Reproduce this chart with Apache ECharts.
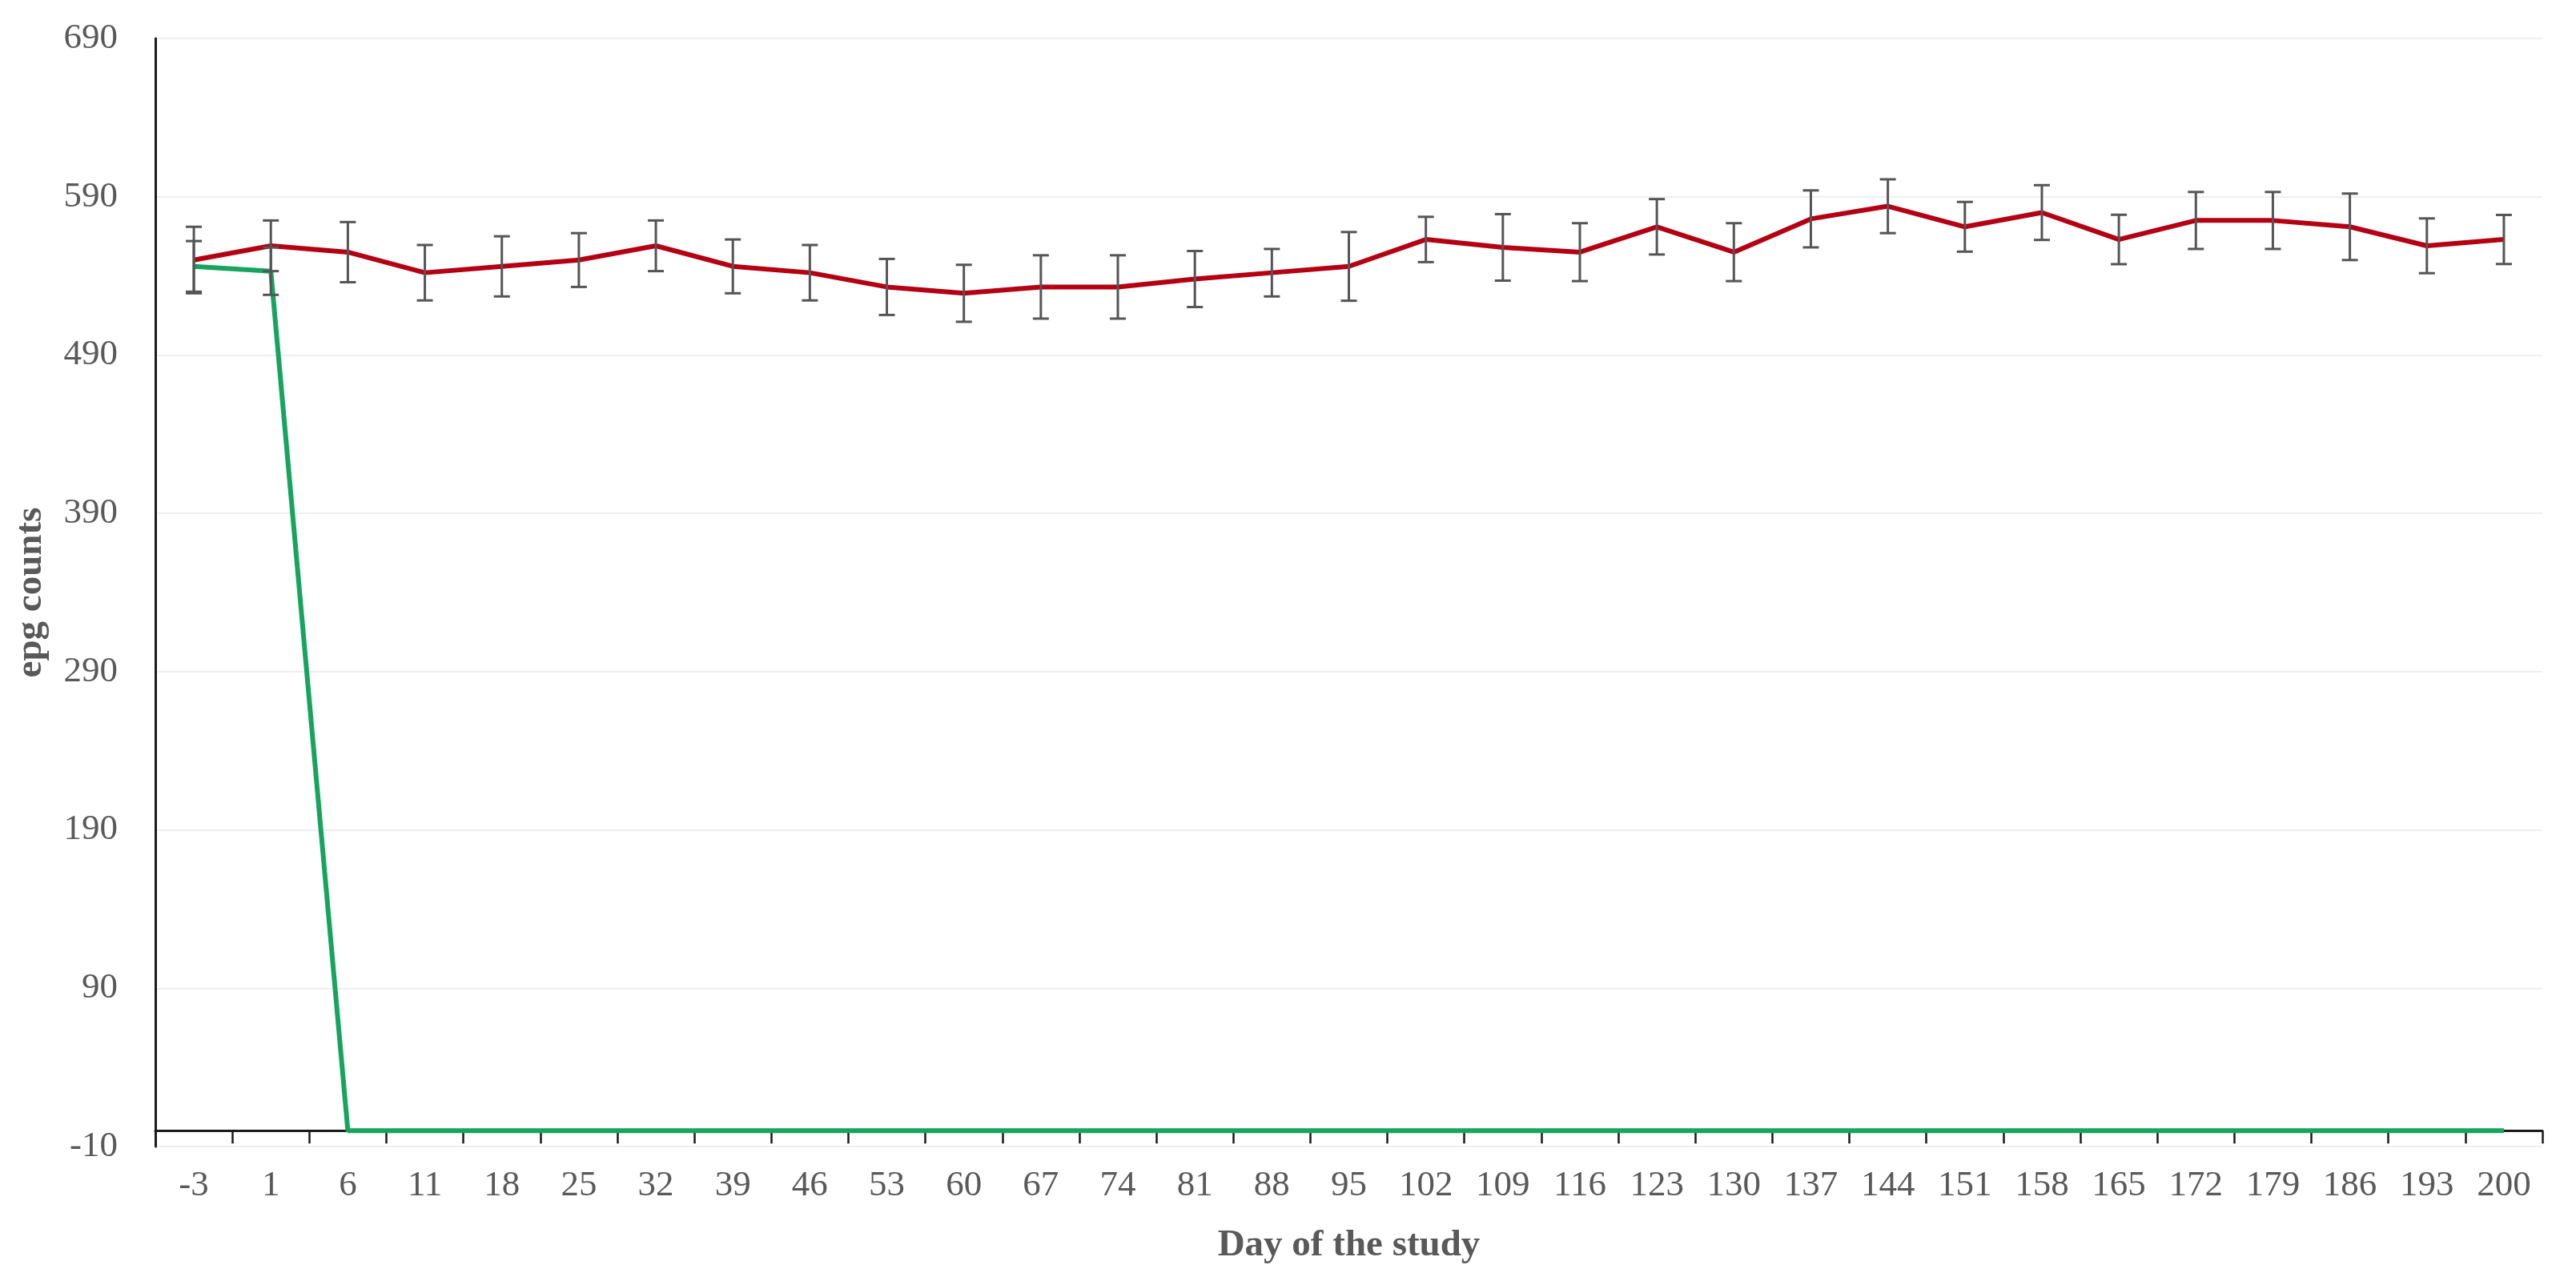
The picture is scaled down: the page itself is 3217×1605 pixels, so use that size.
<!DOCTYPE html>
<html>
<head>
<meta charset="utf-8">
<script src="https://cdn.jsdelivr.net/npm/echarts@6/dist/echarts.min.js"></script>
<style>
html,body{margin:0;padding:0;background:#fff;}
#chart{width:3217px;height:1605px;}
</style>
</head>
<body>
<div id="chart"></div>
<script>
// Categories: day of the study
const days = ['-3','1','6','11','18','25','32','39','46','53','60','67','74','81','88','95','102','109','116','123','130','137','144','151','158','165','172','179','186','193','200'];
// Red series (mean epg) and its error (half-range of error bar)
const redMean = [550,559,555,542,546,550,559,546,542,533,529,533,533,538,542,546,563,558,555,571,555,576,584,571,580,563,575,575,571,559,563];
const redErr  = [21,16,19,17.5,19,17,16,17,17.5,17.7,18,20,20,17.7,15,21.7,14.3,21,18.3,17.5,18.3,18,17,15.7,17.3,15.6,18,18,21,17.3,15.5];
// Green series
const greenMean = [546,543,0,0,0,0,0,0,0,0,0,0,0,0,0,0,0,0,0,0,0,0,0,0,0,0,0,0,0,0,0];
const greenErr  = [16,15,0,0,0,0,0,0,0,0,0,0,0,0,0,0,0,0,0,0,0,0,0,0,0,0,0,0,0,0,0];
// Y axis settings
const yMin = -10, yMax = 690, yStep = 100;

function errData(mean, err) {
  const out = [];
  for (let i = 0; i < mean.length; i++) {
    if (err[i] > 0) out.push([i, mean[i] - err[i], mean[i] + err[i]]);
  }
  return out;
}

function renderErr(params, api) {
  const x = api.value(0);
  const lo = api.coord([x, api.value(1)]);
  const hi = api.coord([x, api.value(2)]);
  const hw = 10;
  const st = {stroke: '#555555', lineWidth: 3};
  return {
    type: 'group',
    children: [
      {type: 'line', shape: {x1: hi[0], y1: hi[1], x2: lo[0], y2: lo[1]}, style: st},
      {type: 'line', shape: {x1: hi[0] - hw, y1: hi[1], x2: hi[0] + hw, y2: hi[1]}, style: st},
      {type: 'line', shape: {x1: lo[0] - hw, y1: lo[1], x2: lo[0] + hw, y2: lo[1]}, style: st}
    ]
  };
}

const chart = echarts.init(document.getElementById('chart'), null, {renderer: 'canvas'});
const font = 'Liberation Serif';
chart.setOption({
  animation: false,
  backgroundColor: '#ffffff',
  grid: {left: 194, right: 42, top: 48, bottom: 173, containLabel: false},
  xAxis: {
    type: 'category',
    data: days,
    boundaryGap: true,
    name: 'Day of the study',
    nameLocation: 'middle',
    nameGap: 100,
    nameTextStyle: {fontFamily: font, fontWeight: 'bold', fontSize: 47, color: '#595959'},
    axisLine: {onZero: true, lineStyle: {color: '#1a1a1a', width: 3}},
    axisTick: {show: true, length: 16, lineStyle: {color: '#1a1a1a', width: 2.5}},
    axisLabel: {fontFamily: font, fontSize: 45, color: '#595959', margin: 27, interval: 0},
    splitLine: {show: false}
  },
  yAxis: {
    type: 'value',
    min: yMin, max: yMax, interval: yStep,
    name: 'epg counts',
    nameLocation: 'middle',
    nameGap: 132,
    nameTextStyle: {fontFamily: font, fontWeight: 'bold', fontSize: 47, color: '#595959'},
    axisLine: {show: true, lineStyle: {color: '#1a1a1a', width: 3}},
    axisTick: {show: false},
    axisLabel: {fontFamily: font, fontSize: 45, color: '#595959', margin: 47},
    splitLine: {show: true, lineStyle: {color: '#efefef', width: 2}}
  },
  series: [
    {
      name: 'red', type: 'line', data: redMean, symbol: 'none',
      lineStyle: {color: '#b40012', width: 6}, z: 3
    },
    {
      name: 'green', type: 'line', data: greenMean, symbol: 'none',
      lineStyle: {color: '#16a45e', width: 6}, z: 4
    },
    {
      name: 'redErr', type: 'custom', data: errData(redMean, redErr),
      encode: {x: 0, y: [1, 2]}, renderItem: renderErr, z: 5
    },
    {
      name: 'greenErr', type: 'custom', data: errData(greenMean, greenErr),
      encode: {x: 0, y: [1, 2]}, renderItem: renderErr, z: 5
    }
  ]
});
</script>
</body>
</html>
